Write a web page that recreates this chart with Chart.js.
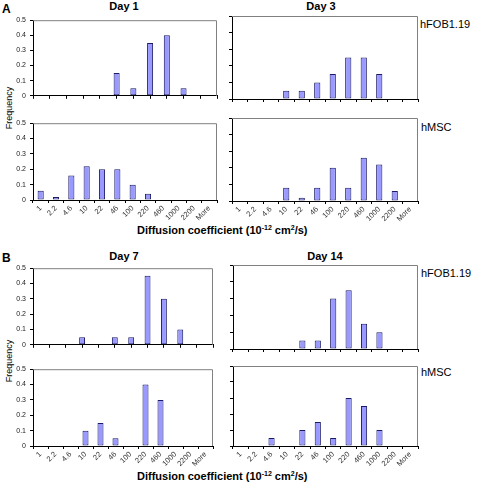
<!DOCTYPE html>
<html lang="en">
<head>
<meta charset="UTF-8" />
<title>Diffusion coefficient histograms</title>
<script src="https://cdn.jsdelivr.net/npm/chart.js"></script>
<style>
  body { margin: 0; background: #fff; font-family: 'Liberation Sans', Arial, sans-serif; }
  #fig { position: relative; width: 478px; height: 482px; overflow: hidden; }
  canvas { position: absolute; }
  .t { position: absolute; white-space: nowrap; color: #000; line-height: 1; }
  .panel { font-weight: bold; font-size: 12px; }
  .day { font-weight: bold; font-size: 11px; transform: translateX(-50%); }
  .cell { font-size: 11px; }
  .xt { font-weight: bold; font-size: 11px; }
  .xt sup { font-size: 7px; vertical-align: 4px; }
  .yt { font-size: 9px; transform: translate(-50%, -50%) rotate(-90deg); }
</style>
</head>
<body>
<div id="fig">
  <div class="t panel" style="left:2px; top:3px;">A</div>
  <div class="t day" style="left:124px; top:1px;">Day 1</div>
  <div class="t day" style="left:321px; top:1px;">Day 3</div>
  <div class="t cell" style="left:420px; top:19px;">hFOB1.19</div>
  <div class="t cell" style="left:421px; top:122px;">hMSC</div>
  <div class="t yt" style="left:9px; top:108px;">Frequency</div>
  <div class="t xt" style="left:137px; top:224px;">Diffusion coefficient (10<sup>-12</sup> cm<sup>2</sup>/s)</div>

  <div class="t panel" style="left:2px; top:252px;">B</div>
  <div class="t day" style="left:124px; top:251px;">Day 7</div>
  <div class="t day" style="left:325px; top:251px;">Day 14</div>
  <div class="t cell" style="left:421px; top:268px;">hFOB1.19</div>
  <div class="t cell" style="left:421px; top:367px;">hMSC</div>
  <div class="t yt" style="left:9px; top:361px;">Frequency</div>
  <div class="t xt" style="left:137px; top:470px;">Diffusion coefficient (10<sup>-12</sup> cm<sup>2</sup>/s)</div>
</div>

<script>
// bins of the histogram
const categories = ['1', '2.2', '4.6', '10', '22', '46', '100', '220', '460', '1000', '2200', 'More'];
const yTicks = [0, 0.1, 0.2, 0.3, 0.4, 0.5];

// frequencies
const day1Fob  = [0, 0, 0, 0, 0, 0.15, 0.05, 0.35, 0.40, 0.05, 0, 0];
const day3Fob  = [0, 0, 0, 0.05, 0.05, 0.10, 0.15, 0.25, 0.25, 0.15, 0, 0];
const day1Msc  = [0.06, 0.02, 0.16, 0.22, 0.20, 0.20, 0.10, 0.04, 0, 0, 0, 0];
const day3Msc  = [0, 0, 0, 0.08, 0.02, 0.08, 0.20, 0.08, 0.26, 0.22, 0.06, 0];
const day7Fob  = [0, 0, 0, 0.05, 0, 0.05, 0.05, 0.45, 0.30, 0.10, 0, 0];
const day14Fob = [0, 0, 0, 0, 0.05, 0.05, 0.30, 0.35, 0.15, 0.10, 0, 0];
const day7Msc  = [0, 0, 0, 0.10, 0.15, 0.05, 0, 0.40, 0.30, 0, 0, 0];
const day14Msc = [0, 0, 0.05, 0, 0.10, 0.15, 0.05, 0.30, 0.25, 0.10, 0, 0];

// plot area of each panel (px), onTicks = Excel "axis on tick marks"
const panels = [
  { data: day1Fob,  x: 33,  y: 17,  w: 184, h: 83, onTicks: true,  yLab: true,  xLab: false },
  { data: day3Fob,  x: 232, y: 16,  w: 186, h: 83, onTicks: false, yLab: false, xLab: false },
  { data: day1Msc,  x: 33,  y: 120, w: 184, h: 80, onTicks: false, yLab: true,  xLab: true },
  { data: day3Msc,  x: 232, y: 118, w: 186, h: 83, onTicks: false, yLab: false, xLab: true },
  { data: day7Fob,  x: 33,  y: 265, w: 180, h: 84, onTicks: true,  yLab: true,  xLab: false },
  { data: day14Fob, x: 233, y: 265, w: 185, h: 84, onTicks: false, yLab: false, xLab: false },
  { data: day7Msc,  x: 33,  y: 366, w: 180, h: 80, onTicks: false, yLab: true,  xLab: true },
  { data: day14Msc, x: 233, y: 366, w: 185, h: 80, onTicks: false, yLab: false, xLab: true }
];

const PAD_TOP = 5, PAD_RIGHT = 2;

// grey frame on top and right of the plot area
const frame = {
  id: 'frame',
  afterDraw(chart) {
    const { ctx, chartArea: a } = chart;
    ctx.save();
    ctx.strokeStyle = '#808080';
    ctx.lineWidth = 1;
    ctx.beginPath();
    ctx.moveTo(a.left, a.top + 0.5);
    ctx.lineTo(a.right - 0.5, a.top + 0.5);
    ctx.lineTo(a.right - 0.5, a.bottom);
    ctx.stroke();
    ctx.restore();
  }
};

const fig = document.getElementById('fig');

panels.forEach(p => {
  const yw = p.yLab ? 28 : 4;
  const xh = p.xLab ? 24 : 4;
  const cv = document.createElement('canvas');
  cv.width = p.w + yw + PAD_RIGHT;
  cv.height = p.h + PAD_TOP + xh;
  cv.style.left = (p.x - yw) + 'px';
  cv.style.top = (p.y - PAD_TOP) + 'px';
  fig.appendChild(cv);

  new Chart(cv.getContext('2d'), {
    type: 'bar',
    data: {
      labels: categories,
      datasets: [{
        data: p.data,
        backgroundColor: '#9999ff',
        borderColor: '#1a1a66',
        borderWidth: 1,
        borderSkipped: false,
        inflateAmount: 0,
        categoryPercentage: 1,
        barPercentage: p.onTicks ? 0.36 : 0.4
      }]
    },
    options: {
      responsive: false,
      animation: false,
      devicePixelRatio: 1,
      layout: { padding: { top: PAD_TOP, right: PAD_RIGHT, left: 0, bottom: 0 } },
      plugins: { legend: { display: false }, tooltip: { enabled: false } },
      scales: {
        x: {
          offset: !p.onTicks,
          grid: { offset: !p.onTicks, drawOnChartArea: false, drawTicks: true, tickLength: 3, color: '#000' },
          border: { display: true, color: '#000', width: 1 },
          ticks: {
            display: p.xLab,
            autoSkip: false,
            minRotation: 45,
            maxRotation: 45,
            padding: 1,
            color: '#333',
            font: { family: 'Liberation Sans', size: 7.5 }
          },
          afterFit: s => { s.height = xh; }
        },
        y: {
          min: 0,
          max: 0.5,
          afterBuildTicks: s => { s.ticks = yTicks.map(v => ({ value: v })); },
          grid: { drawOnChartArea: false, drawTicks: true, tickLength: 3, color: '#000' },
          border: { display: true, color: '#000', width: 1 },
          ticks: {
            display: p.yLab,
            padding: 4,
            color: '#222',
            font: { family: 'Liberation Sans', size: 7 },
            callback: v => String(Math.round(v * 10) / 10)
          },
          afterFit: s => { s.width = yw; }
        }
      }
    },
    plugins: [frame]
  });
});
</script>
</body>
</html>
